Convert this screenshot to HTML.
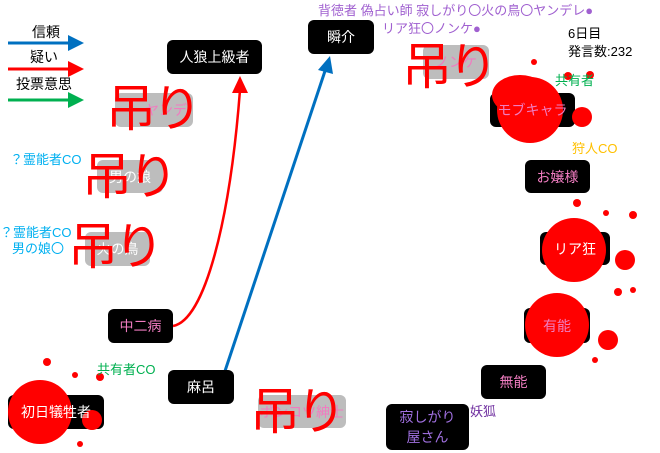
<!DOCTYPE html>
<html><head><meta charset="utf-8"><style>
body{margin:0;width:660px;height:453px;background:#fff;position:relative;overflow:hidden;font-family:"Liberation Sans","Noto Sans CJK JP",sans-serif}
.n{position:absolute;background:#000;border-radius:6px;display:flex;align-items:center;justify-content:center;font-size:14px;color:#fff;text-align:center;line-height:20px}
.o{position:absolute;display:flex;align-items:center;justify-content:center;font-size:14px;text-align:center;line-height:20px}
.g{position:absolute;background:#bdbdbd;border-radius:6px;display:flex;align-items:center;justify-content:center;font-size:14px;color:#fff}
.t{position:absolute;font-size:13px;white-space:nowrap;line-height:15px}
.h{position:absolute;color:#f00;font-size:50px;line-height:50px;white-space:nowrap;font-family:"Noto Sans CJK JP",sans-serif;letter-spacing:-4px}
svg{position:absolute;left:0;top:0}
</style></head><body>
<svg width="660" height="453">
<line x1="8" y1="43" x2="70" y2="43" stroke="#0070c0" stroke-width="3"/><path d="M68,35L84,43L68,51z" fill="#0070c0"/>
<line x1="8" y1="69" x2="70" y2="69" stroke="#f00" stroke-width="3"/><path d="M68,61L84,69L68,77z" fill="#f00"/>
<line x1="8" y1="100" x2="70" y2="100" stroke="#00b050" stroke-width="3"/><path d="M68,92L84,100L68,108z" fill="#00b050"/>
<path d="M173,326 C205,320 230,220 240,90" stroke="#f00" stroke-width="2.5" fill="none"/><path d="M232,93L240,76L248,93z" fill="#f00"/>
<line x1="225" y1="371" x2="326" y2="68" stroke="#0070c0" stroke-width="3"/><path d="M318,70L330,56L333,74z" fill="#0070c0"/>
</svg>
<div class="t" style="left:32px;top:25px;font-size:14px">信頼</div>
<div class="t" style="left:30px;top:50px;font-size:14px">疑い</div>
<div class="t" style="left:16px;top:77px;font-size:14px">投票意思</div>

<div class="g" style="left:115px;top:93px;width:78px;height:34px;color:#f07cc0;justify-content:flex-end;padding-right:6px;box-sizing:border-box">ヤンデ</div>
<div class="g" style="left:97px;top:160px;width:66px;height:33px">男の娘</div>
<div class="g" style="left:85px;top:232px;width:65px;height:34px">火の鳥</div>
<div class="g" style="left:423px;top:45px;width:66px;height:34px;color:#f07cc0">ノンケ</div>
<div class="g" style="left:258px;top:395px;width:88px;height:33px;color:#f07cc0">ポンコツ紳士</div>

<div class="n" style="left:167px;top:40px;width:95px;height:34px">人狼上級者</div>
<div class="n" style="left:308px;top:20px;width:66px;height:34px">瞬介</div>
<div class="n" style="left:108px;top:309px;width:65px;height:34px;color:#f07cc0">中二病</div>
<div class="n" style="left:168px;top:370px;width:66px;height:34px">麻呂</div>
<div class="n" style="left:8px;top:395px;width:96px;height:34px"></div>
<div class="n" style="left:386px;top:404px;width:83px;height:46px;color:#a070e0">寂しがり<br>屋さん</div>
<div class="n" style="left:481px;top:365px;width:65px;height:34px;color:#f07cc0">無能</div>
<div class="n" style="left:524px;top:308px;width:66px;height:35px"></div>
<div class="n" style="left:540px;top:232px;width:70px;height:33px"></div>
<div class="n" style="left:525px;top:160px;width:65px;height:33px;color:#f07cc0">お嬢様</div>
<div class="n" style="left:490px;top:93px;width:85px;height:34px"></div>

<svg width="660" height="453">
<g fill="#f00">
<circle cx="530" cy="110" r="33"/><ellipse cx="520" cy="95" rx="28" ry="20"/><circle cx="582" cy="117" r="10"/><circle cx="534" cy="62" r="3"/><circle cx="590" cy="75" r="4"/><circle cx="568" cy="76" r="4"/>
<circle cx="574" cy="250" r="32"/><circle cx="625" cy="260" r="10"/><circle cx="633" cy="215" r="4"/><circle cx="606" cy="213" r="3"/><circle cx="577" cy="203" r="4"/><circle cx="633" cy="290" r="3"/>
<circle cx="557" cy="325" r="32"/><circle cx="608" cy="340" r="10"/><circle cx="618" cy="292" r="4"/><circle cx="595" cy="360" r="3"/>
<circle cx="40" cy="412" r="32"/><circle cx="92" cy="420" r="10"/><circle cx="47" cy="362" r="4"/><circle cx="75" cy="375" r="3"/><circle cx="100" cy="377" r="4"/><circle cx="80" cy="444" r="3"/>
</g></svg>
<div class="o" style="left:490px;top:93px;width:85px;height:34px;color:#f07cc0">モブキャラ</div>
<div class="o" style="left:540px;top:232px;width:70px;height:33px;color:#fff">リア狂</div>
<div class="o" style="left:524px;top:308px;width:66px;height:35px;color:#f07cc0">有能</div>
<div class="o" style="left:8px;top:395px;width:96px;height:34px;color:#fff">初日犠牲者</div>

<div class="h" style="left:106px;top:80px">吊り</div>
<div class="h" style="left:82px;top:148px">吊り</div>
<div class="h" style="left:68px;top:218px">吊り</div>
<div class="h" style="left:402px;top:38px">吊り</div>
<div class="h" style="left:250px;top:383px">吊り</div>

<div class="t" style="left:318px;top:3px;color:#a060d0">背徳者 偽占い師 寂しがり〇火の鳥〇ヤンデレ●</div>
<div class="t" style="left:382px;top:21px;color:#a060d0">リア狂〇ノンケ●</div>
<div class="t" style="left:568px;top:26px;color:#000">6日目</div>
<div class="t" style="left:568px;top:44px;color:#000">発言数:232</div>
<div class="t" style="left:555px;top:73px;color:#00b050">共有者</div>
<div class="t" style="left:572px;top:141px;color:#ffc000">狩人CO</div>
<div class="t" style="left:10px;top:152px;color:#00b0f0">？霊能者CO</div>
<div class="t" style="left:0px;top:225px;color:#00b0f0">？霊能者CO</div>
<div class="t" style="left:12px;top:241px;color:#00b0f0">男の娘〇</div>
<div class="t" style="left:97px;top:362px;color:#00b050">共有者CO</div>
<div class="t" style="left:470px;top:404px;color:#7030a0">妖狐</div>
</body></html>
